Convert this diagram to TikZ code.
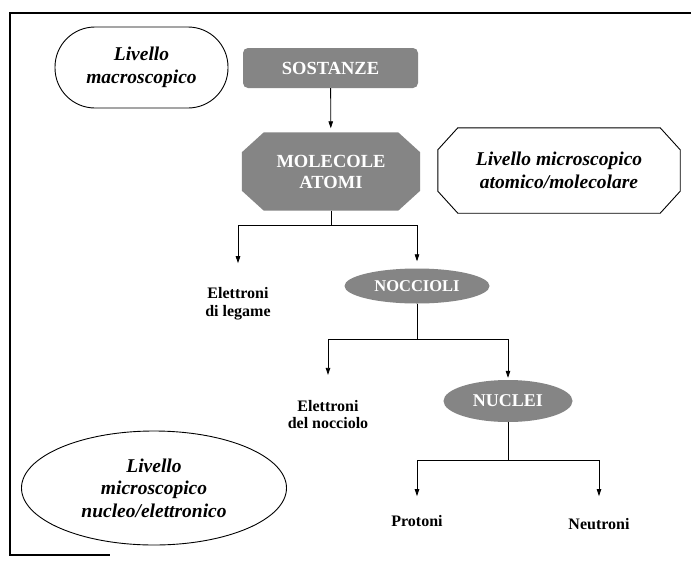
\documentclass[tikz,border=0pt]{standalone}
\usepackage{fontspec}
\setmainfont{Liberation Serif}
\usetikzlibrary{arrows.meta,backgrounds,shapes.geometric}
\definecolor{gfill}{gray}{0.52}
\begin{document}
\begin{tikzpicture}[x=1pt,y=-1pt,
  ln/.style={line width=0.8pt},
  arr/.style={ln,-{Triangle[length=7pt,width=4.5pt]}},
  lbl/.style={font=\bfseries\fontsize{16}{17.5}\selectfont,align=center,inner sep=0pt},
  ital/.style={font=\bfseries\itshape\fontsize{19.5}{22.5}\selectfont,align=center,inner sep=0pt},
  gnode/.style={text=white,font=\bfseries\fontsize{18.5}{21}\selectfont,align=center,inner sep=0pt},
  gfilled/.style={fill=gfill},
  outline/.style={draw=black,line width=0.9pt}]
\useasboundingbox (0,0) rectangle (691,560);
% frame
\draw[line width=1.4pt] (691,13) -- (10,13) -- (10,555) -- (110,555);
% nodes
\node[ital,outline,rounded corners=40pt,minimum width=173pt,minimum height=81pt] (macro) at (141.5,67.5) {Livello\\macroscopico};
\node[gnode,gfilled,rounded corners=5pt,minimum width=175pt,minimum height=40pt] (sost) at (330.5,68) {SOSTANZE};
\node[gnode,minimum width=178pt,minimum height=78pt] (mol) at (331,171.5) {MOLECOLE\\ATOMI};
\node[ital,minimum width=242pt,minimum height=85pt] (micro) at (559,170.5) {Livello microscopico\\atomico/molecolare};
\node[lbl] (leg) at (238,303.5) {Elettroni\\di legame};
\node[gnode,gfilled,ellipse,minimum width=145pt,minimum height=35pt,font=\bfseries\fontsize{16.5}{19}\selectfont] (nocc) at (417,286) {NOCCIOLI};
\node[lbl] (ndn) at (328,414.5) {Elettroni\\del nocciolo};
\node[gnode,gfilled,ellipse,minimum width=129pt,minimum height=42pt,font=\bfseries\fontsize{18}{20}\selectfont] (nuc) at (508,401) {NUCLEI};
\node[lbl] (prot) at (417,521) {Protoni};
\node[lbl] (neut) at (599,524) {Neutroni};
\node[ital,outline,ellipse,minimum width=265pt,minimum height=114pt] (nucl) at (154,488) {Livello\\microscopico\\nucleo/elettronico};
% octagons
\begin{scope}[on background layer]
\fill[white] (0,0) rectangle (691,560);
\fill[gfill] ([xshift=22pt]mol.north west) -- ([xshift=-22pt]mol.north east) -- ([yshift=-20pt]mol.north east) -- ([yshift=20pt]mol.south east) -- ([xshift=-22pt]mol.south east) -- ([xshift=22pt]mol.south west) -- ([yshift=20pt]mol.south west) -- ([yshift=-20pt]mol.north west) -- cycle;
\end{scope}
\draw[outline] ([xshift=20pt]micro.north west) -- ([xshift=-20pt]micro.north east) -- ([yshift=-22pt]micro.north east) -- ([yshift=22pt]micro.south east) -- ([xshift=-20pt]micro.south east) -- ([xshift=20pt]micro.south west) -- ([yshift=22pt]micro.south west) -- ([yshift=-22pt]micro.north west) -- cycle;
% connectors
\draw[arr,shorten >=4pt] (sost) -- (mol);
\draw[ln] (mol.south) -- ++(0,15) coordinate (j1);
\draw[arr,shorten >=24pt] (j1) -| (leg);
\draw[arr,shorten >=7pt] (j1) -| (nocc);
\draw[ln] (nocc.south) -- ++(0,36) coordinate (j2);
\draw[arr,shorten >=25pt] (j2) -| (ndn);
\draw[arr,shorten >=2pt] (j2) -| (nuc);
\draw[ln] (nuc.south) -- ++(0,38) coordinate (j3);
\draw[arr,shorten >=19pt] (j3) -| (prot);
\draw[arr,shorten >=22pt] (j3) -| (neut);
\end{tikzpicture}
\end{document}
